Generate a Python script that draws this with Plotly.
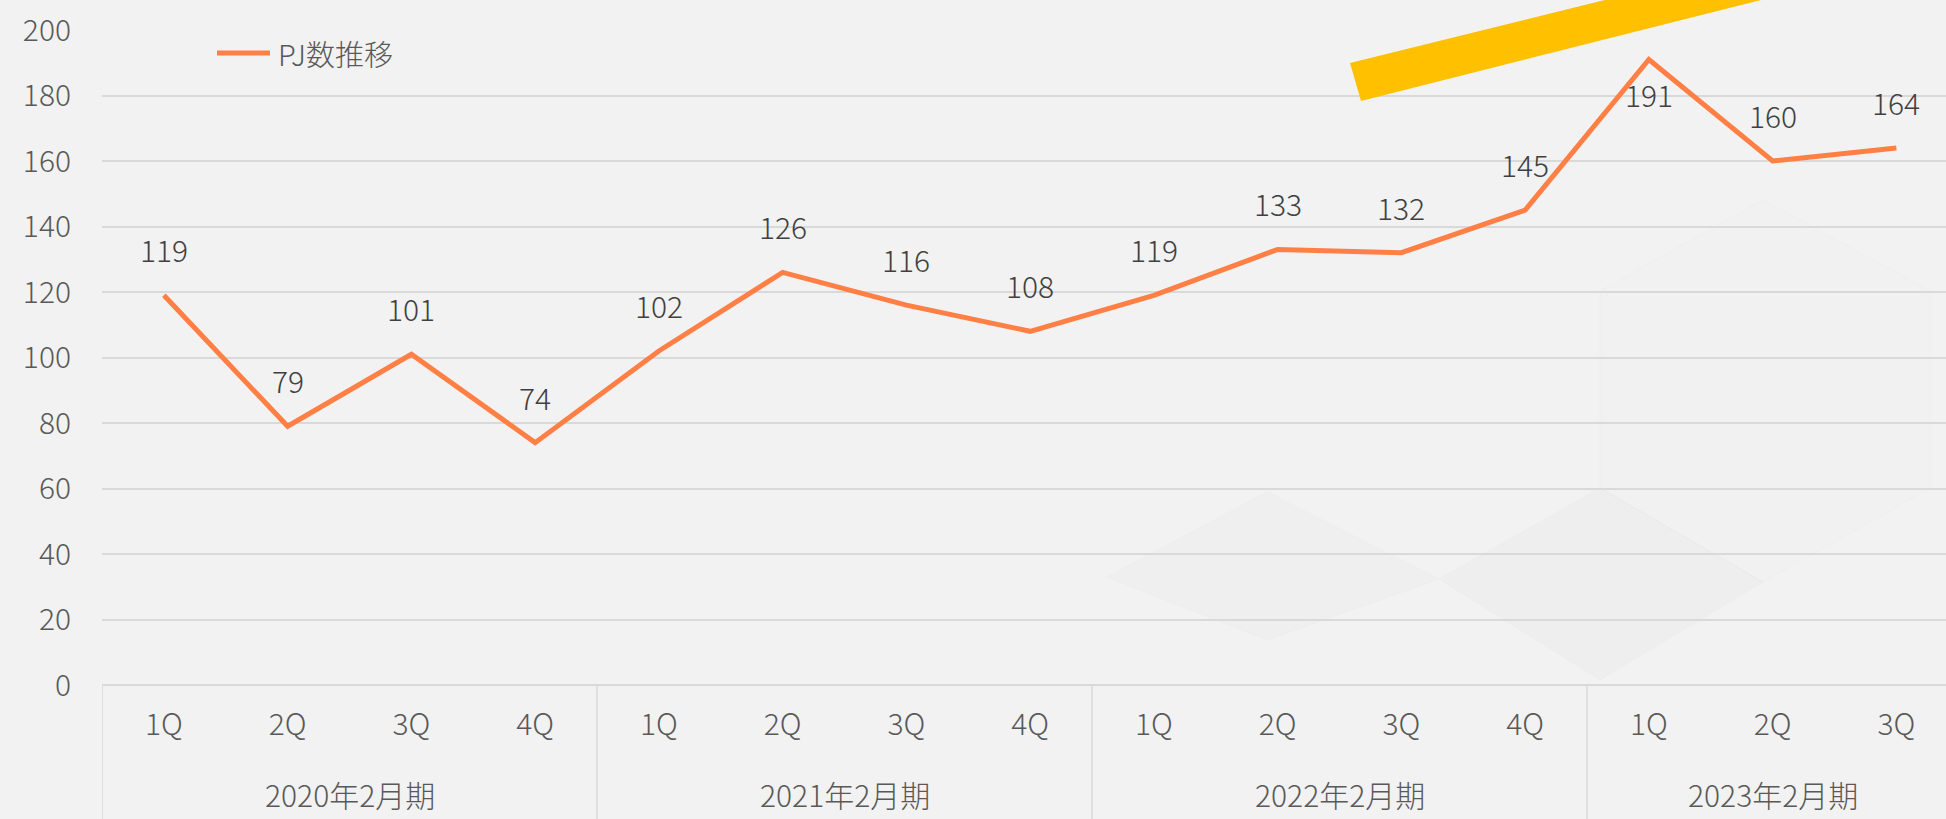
import plotly.graph_objects as go

# ---- data ----
fiscal_years = ["2020年2月期", "2021年2月期", "2022年2月期", "2023年2月期"]
quarters_per_year = [4, 4, 4, 3]
quarter_labels = ["1Q", "2Q", "3Q", "4Q", "1Q", "2Q", "3Q", "4Q",
                  "1Q", "2Q", "3Q", "4Q", "1Q", "2Q", "3Q"]
pj_counts = [119, 79, 101, 74, 102, 126, 116, 108, 119, 133, 132, 145, 191, 160, 164]
series_name = "PJ数推移"
y_ticks = [0, 20, 40, 60, 80, 100, 120, 140, 160, 180, 200]

W, H = 1946, 819
ML, MR, MT, MB = 102, 0, 30, 134
plot_w = W - ML - MR
plot_h = H - MT - MB
cat_px = 123.75

FONT = "Noto Sans CJK JP"
LINE_COLOR = "#FF7F45"
GRID = "#D9D9D9"
TXT = "#595959"


def px(x):
    return (x - ML) / plot_w


def py(y):
    return ((H - MB) - y) / plot_h


x_idx = list(range(len(pj_counts)))

fig = go.Figure()

# faint decorative background facets
facets = [
    ([(1107, 577), (1267, 492), (1439, 579), (1267, 640)], "rgba(0,0,0,0.010)"),
    ([(1439, 579), (1600, 488), (1763, 582), (1600, 680)], "rgba(0,0,0,0.016)"),
    ([(1600, 291), (1763, 200), (1930, 291), (1930, 488), (1763, 582), (1600, 488)], "rgba(0,0,0,0.005)"),
]
for pts, col in facets:
    p = "M " + " L ".join(f"{px(a)},{py(b)}" for a, b in pts) + " Z"
    fig.add_shape(type="path", xref="paper", yref="paper", path=p,
                  fillcolor=col, line=dict(width=1, color="rgba(0,0,0,0.018)"),
                  layer="below")

fig.add_trace(go.Scatter(
    x=x_idx, y=pj_counts, mode="lines", name=series_name,
    line=dict(color=LINE_COLOR, width=5),
    showlegend=False,
))

# data labels
peak = max(pj_counts)
for xi, v in zip(x_idx, pj_counts):
    fig.add_annotation(
        x=xi, y=v, text=str(v), showarrow=False,
        yshift=(-35 if v == peak else 46), yanchor="middle",
        font=dict(family=FONT, size=30, color="#404040", weight=300),
    )

# group labels and dividers
start = 0
for name, n in zip(fiscal_years, quarters_per_year):
    center = start + (n - 1) / 2
    fig.add_annotation(
        x=center, y=py(794), yref="paper", xref="x",
        text=name, showarrow=False, yanchor="middle",
        font=dict(family=FONT, size=30, color=TXT, weight=300),
    )
    fig.add_shape(type="line", xref="x", yref="paper",
                  x0=start - 0.5, x1=start - 0.5, y0=0, y1=py(830),
                  line=dict(color=GRID, width=1.5), layer="below")
    start += n

# legend (line sample + label)
fig.add_shape(type="line", xref="paper", yref="paper",
              x0=px(217), x1=px(270), y0=py(53), y1=py(53),
              line=dict(color=LINE_COLOR, width=5))
fig.add_annotation(x=px(276), y=py(53), xref="paper", yref="paper",
                   text=series_name, showarrow=False, xanchor="left", yanchor="middle",
                   font=dict(family=FONT, size=29, color=TXT, weight=300))

# decorative yellow band
band = [(1350, 63), (1361, 101), (1880, -30), (1726, -30)]
path = "M " + " L ".join(f"{px(a)},{py(b)}" for a, b in band) + " Z"
fig.add_shape(type="path", xref="paper", yref="paper", path=path,
              fillcolor="#FFC000", line=dict(width=0), layer="above")

fig.update_layout(
    width=W, height=H,
    margin=dict(l=ML, r=MR, t=MT, b=MB),
    paper_bgcolor="#F2F2F2", plot_bgcolor="#F2F2F2",
    font=dict(family=FONT, size=30, color=TXT, weight=300),
    showlegend=False,
)
fig.update_xaxes(
    range=[-0.5, -0.5 + plot_w / cat_px],
    tickmode="array", tickvals=x_idx, ticktext=quarter_labels,
    showgrid=False, zeroline=False, showline=False,
    ticks="outside", ticklen=0, ticklabelstandoff=13,
    tickfont=dict(family=FONT, size=30, color=TXT, weight=300),
)
fig.update_yaxes(
    range=[0, 200], tickmode="array", tickvals=y_ticks,
    showgrid=True, gridcolor=GRID, gridwidth=2,
    zeroline=True, zerolinecolor=GRID, zerolinewidth=2,
    showline=False, ticks="", ticklabelstandoff=30,
    tickfont=dict(family=FONT, size=30, color=TXT, weight=300),
)

fig.write_html("out.html", config={"displayModeBar": False},
               post_script="document.body.style.margin='0';document.body.style.overflow='hidden';")
